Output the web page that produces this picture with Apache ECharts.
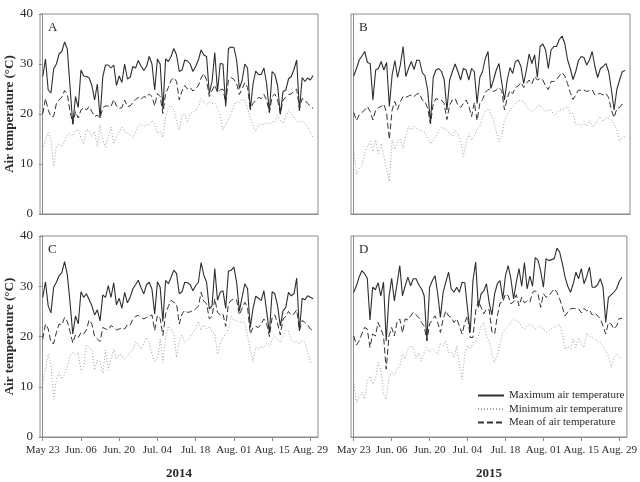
<!DOCTYPE html>
<html>
<head>
<meta charset="utf-8">
<script src="https://cdn.jsdelivr.net/npm/echarts@6/dist/echarts.min.js"></script>
<style>
  html, body { margin: 0; padding: 0; background: #fff; }
  #chart { width: 640px; height: 482px; }
</style>
</head>
<body>
<div id="chart"></div>
<script>
"use strict";
// ---- data: daily values, day 0 = May 23 ----
const tickDays = [0, 14, 28, 42, 56, 70, 84, 98];
const tickLabels = ["May 23", "Jun. 06", "Jun. 20", "Jul. 04", "Jul. 18", "Aug. 01", "Aug. 15", "Aug. 29"];
const seriesNames = ["Maximum air temperature", "Minimum air temperature", "Mean of air temperature"];

// panel A (2014)
const maxA = [27.5,31,24.8,24.2,29,30,32,32.5,34.4,33,25.5,17.9,23.5,21.3,28.8,27.6,27.5,27.2,25.7,22.8,
  26,19.2,27.5,29.8,29.8,29.2,29.8,25.7,27.6,26.3,30,27,27.3,29.5,29.2,30.7,29.6,28.7,29.5,31.5,
  30,24.8,31,30,21,31,30.5,31.5,33.1,31.8,28.5,28.8,30.8,30.6,30,28.5,29.5,30.8,32.8,31.8,
  31.5,24.1,26.5,32.3,24.5,30.1,30,21.5,33.1,33.4,33.3,30.8,25.1,26.7,30,29.2,20.8,26,28.6,27.9,
  27.9,29.2,26,20.3,28.5,27.9,25.7,19.9,24.5,24.8,27,27.5,28.9,30.8,20.6,27.3,26.5,27.2,26.8,27.7];
const minA = [12.8,14.8,16.3,14.8,9.5,13.5,14,13.5,14.5,15.7,16.1,15.5,16.8,16.9,15.3,14,16.9,16.7,15.5,16.5,
  13.5,17.9,14.8,13.4,15.5,17.4,14,15.5,16.3,17.4,16.5,16.1,15.8,15.3,16.5,17.7,18,17.5,17.9,17.7,
  18.7,17.9,16.1,16.7,15.3,19.3,21.3,21.7,20.8,18.7,16.8,19.7,20.1,18.3,20.1,20.3,20.8,21.6,23.1,22.5,
  21.7,22.5,22.1,22.2,21.2,19.8,16.8,18,19,20.1,21.6,22.5,22.2,22.9,22.7,21.1,19.3,17.7,16.5,17.7,
  18,17.9,18.3,17.9,18.5,18.5,19.7,18.7,18.1,19.3,20.7,20.1,19.2,18.7,18.3,18.7,18.1,17.5,16.3,15.3];
const meanA = [20,23.1,20.8,19.5,19.5,22.1,22.8,23.4,24.7,24,20.5,18,20.5,19.2,20.8,21.3,20.8,21.5,20.5,19.5,
  19.8,19.2,21.3,21.6,21.6,21.5,22.9,21.6,21.1,21.3,22.8,21.5,21.6,22.3,22.9,23.3,22.9,23.5,23.3,24,
  23.5,21.6,24.1,23.5,20.1,24.1,25.3,26.7,27.3,26.5,22.8,24.6,25.7,25,25.3,24.6,25,25.7,27.2,28.1,
  26.8,23.5,24.7,25.8,24.3,24.8,25,22.2,26.8,27.3,26.9,26.1,23.9,25,26.3,25.3,21.1,22.1,22.7,23.3,
  23.1,23.9,22.7,20.3,23.5,24,22.8,20.1,22.8,23.3,23.9,24,24.6,25,21.1,23.1,22.8,22.1,21.6,21.1];

// panel B (2015)
const maxB = [27.6,29.1,30.8,31.6,32.5,30.3,30.1,22.8,28.8,29.1,30.5,28.8,30.3,21.5,27.8,30.7,27.3,29.8,33.5,27.5,
  29.1,30.5,28.9,30.8,30.7,28.3,27.6,24.7,18.1,27.3,28.8,29.1,28.5,26.9,20.8,26.8,28.5,30,28.5,26.8,
  29.1,28.8,26.8,29.1,28.5,22.1,27.3,28.5,31.1,32.5,25.1,26.8,28.8,30.1,26.3,22.8,26.8,29.3,28.1,30.5,
  30.8,29.5,26.1,28.8,32,30.1,31.8,27.3,33.5,34,32.8,29.1,32.8,33.5,33.5,34.9,35.6,34.1,30.9,29.1,
  26.9,28.5,30.7,31.5,31.3,29.8,30.8,32.5,29.5,27.3,29.1,29.5,30.1,28.5,24.9,20.8,24.9,26.8,28.5,28.7];
const minB = [13.1,7.8,9.1,9.6,12.1,13.5,14.5,12.5,14.8,12.1,14.1,11.5,8.8,6.5,14.8,12.9,14.5,15.1,13.1,15.5,
  17.6,16.8,17.5,17.1,16.8,16.5,16.3,15.1,14,14.8,15.5,16.7,17.3,17.1,16.7,16.1,15.6,16.7,16,14.8,
  11.5,14.1,16.1,14.8,15.5,17.1,17.6,19.5,20.5,21.1,20.1,18.8,16.5,14.5,15.5,18.8,19.8,20.8,21.5,22.1,
  22.7,22.7,22.5,21.5,20.9,20.5,20.9,21.5,21.8,21.1,20.5,20.8,20.8,19.8,20.1,20.8,20.9,21.1,21.5,20.1,
  20.1,17.8,18,17.5,18.5,17.6,18.7,17.5,17.8,18.8,19.5,18.5,19.3,19.1,18.8,18,16.8,14.5,15.3,15.5];
const meanB = [20.3,18.7,19.8,20.3,20.8,21.5,20.5,18.8,20.8,21.3,21.5,22,20.1,14.9,20.8,22.5,20.9,22.5,23.5,23.3,
  23.6,23.8,23.5,24,24.1,22.8,22.5,21.1,18,22.1,23.1,22.8,22.8,22.1,18.9,21.8,22.8,23.1,21.8,21.3,
  22.1,22.8,21.6,19.5,22.3,18.7,22.1,22.9,24.3,24.9,24.8,24.5,24.8,25.3,24.7,20.8,23.1,24.7,24.1,25.3,
  25.6,26.3,25.3,26.1,26.8,26,27.5,26.8,27.1,26.8,25.6,24.9,26.5,26.5,26.9,27.6,28.3,27.6,26.1,24.3,
  22.9,23.8,24.8,24.7,24.8,24.5,24.7,24.8,23.8,24,24.1,23.8,24.1,23.3,20.8,19.3,21.1,21.3,22,21.8];

// panel C (2014)
const maxC = [27.8,30.9,26.1,24.7,29.8,30.8,32.1,32.7,34.9,32.3,26.8,20.5,24.1,22.5,28.9,27.8,28.5,27.3,26.1,24.3,
  25.3,23.1,28.3,27.8,30.1,27.8,30.7,26.3,27.6,25.6,28.8,26.7,27.8,29.5,30.3,31.2,29.7,28.5,30.3,30.8,
  29.4,24.5,30.9,29.8,23,31.2,30.5,31.8,33.2,32.5,28.5,28.9,30.8,30.7,30.3,29.1,30.1,30.8,34.7,32.2,
  30.8,25.5,26.1,33.5,27.2,28.8,29.1,25.6,33,33.2,33.8,30.8,25.1,27.8,30.5,29.5,21.8,25.6,28,27.6,
  27.2,29.1,25,20.7,28.9,28.5,26.1,22.1,25.1,25.8,28.8,28.1,28.5,31.6,21.1,27.6,27.3,28.1,27.8,27.5];
const minC = [10.7,13.5,16.5,14.5,7.5,11.5,12.8,11.5,12.5,14,16.3,16.8,16.5,16.8,13.2,14.2,18.3,17.8,17.5,13.3,
  15.3,15,12.6,17.3,13.3,15.5,17.5,15.5,16.5,16.2,15.5,16,17,17.3,19,18.3,17.5,18.5,19.8,18.8,
  16.5,15,15.5,19.5,14.8,19.8,22,21.5,20.5,15.8,19.3,20.3,18.8,19.2,20,20.8,21.5,23,21.2,22.3,
  21.5,22,21,20.5,16.5,18.5,19.8,20.5,21.5,24,23.2,23.2,22.8,23,22.8,20,17.5,15,18,17.5,
  18,17.8,18.5,18,19.3,20,19.5,18.8,20,21.2,21,19.3,18.8,19,18.5,19.2,18.8,17,15,14.8];
const meanC = [19.5,22.5,21.5,18.8,18.6,20.8,22.5,22.3,23.8,23,21,18.7,20.3,19.8,20.8,20.5,21.3,23.3,22.5,20,
  19.5,19,21.8,21.5,21.3,22.2,21.8,21.3,21.5,21.7,21.5,22.3,22.2,23.5,24,24.2,23.8,23.5,23.8,24,
  24.3,21.2,24.2,23.6,20.2,24.5,26,27.2,26.8,26.5,22.5,24.5,25.2,24.8,24.9,25.2,25.5,26,28.8,27,
  26.5,23.5,24,27.5,24.8,24.3,24.5,22,26.5,27.2,27.5,27.3,24.3,25.6,26.8,25.8,20.5,21.8,22,21.8,
  22.5,23.5,22.5,20,23.8,24.3,22.5,20.3,23.5,24,25,24.2,24.5,25.3,21.2,23.2,22.8,22.3,21.5,21.2];

// panel D (2015)
const maxD = [28.8,30.1,31.8,33.1,32.5,31.6,23.3,29.8,29.3,30.7,28.1,30.8,19.1,27.8,31.6,27.1,30.5,34.1,28.1,30.1,
  31.8,30.1,31.5,31.5,30.3,29.5,28.1,19.3,29.8,31.1,32.1,28.5,23.8,28.8,30.8,32.8,29.5,28.8,29.8,28.8,
  30.8,30.7,25.5,20.8,31.1,34.8,25.8,28.5,29.1,30.5,26.7,24.3,28.5,30.5,31.1,27.5,32.1,34.1,31.5,27.5,
  30.8,33.5,30,34.7,29.5,32,30,35.7,35.2,33,29.8,35.5,35.1,35.3,35.5,37.6,36.8,34.5,31.8,30,
  28.8,30.5,32.8,31.5,33.5,30.5,32,33.8,29.8,29.8,30.3,31.5,29.8,22.8,27.8,28.3,28.8,29.5,31,31.8];
const minD = [11.1,6.8,8.1,8.9,7.5,11.1,12.1,10.5,11.5,14.8,13.5,8.5,7.5,11.8,12.8,12.3,13.5,14.1,16.5,15.5,
  17.5,18.1,17.8,15.6,16.7,15.1,16.8,17.8,16.9,17.6,17.1,16.5,18.7,18.1,19.1,16.8,16.9,15.8,18.1,14.5,
  11.5,16.5,18.1,17.5,18.8,19.1,20.1,22.1,22.8,20.1,19.1,16.5,14.8,16.3,18.5,20.8,21.5,22.1,22.8,23.5,
  23.1,22.8,22,21.5,22.1,22.5,22.1,21.5,21.8,22.1,21.5,20.8,21.1,21.5,21.8,22.1,22.3,20.5,17.5,18.1,
  17.6,19.5,17.8,19.8,18.5,17.8,20.7,20.1,19.8,19.5,19.1,18.8,18.1,17.1,16.1,13.8,15.8,16.5,15.8,15.6];
const meanD = [20.1,18.3,19.1,20.5,21.8,21.5,17.8,20.5,20.1,22.8,21.5,20.1,13.5,20.1,21.8,20.1,22.9,23.5,20.7,23.5,
  23.3,24.1,24.8,24.3,23.8,22.8,22.1,19.1,22.5,23.3,24.1,22.8,20.8,23.5,25.1,24.1,23.8,22.8,23.5,22.1,
  20.5,22.8,24.1,19.8,19.8,25.1,27.1,25.8,24.5,25.5,25.3,20.9,20.5,24.1,26.7,26.8,28.5,28.1,26.5,26.9,
  28.3,26.1,27.8,26.7,27.1,26.8,28.8,29.1,28.5,25.8,28.5,27.8,28.1,28.8,29.5,28.8,27.5,25.8,24.1,24.9,
  25.5,25.6,25.5,25.5,24.7,25.6,25.1,25.3,24.3,24.7,24.1,23.5,22.1,20.5,22.8,22.5,21.5,22.1,23.6,23.6];

// ---- layout ----
const FONT = "Liberation Serif";
const INK = "#2b2b2b";
const FRAME = "#8c8c8c";
const panels = [
  { letter: "A", max: maxA, min: minA, mean: meanA, left: 40,  top: 14,  width: 278, height: 200, yLab: true,  xLab: false },
  { letter: "B", max: maxB, min: minB, mean: meanB, left: 351, top: 14,  width: 279, height: 200, yLab: false, xLab: false },
  { letter: "C", max: maxC, min: minC, mean: meanC, left: 40,  top: 236, width: 278, height: 201, yLab: true,  xLab: true, year: "2014" },
  { letter: "D", max: maxD, min: minD, mean: meanD, left: 351, top: 236, width: 279, height: 201, yLab: false, xLab: true, year: "2015" }
];
const pts = (arr) => arr.map((v, i) => [i, v]);
const lineStyles = [
  { color: "#2e2e2e", width: 1.1, type: "solid" },
  { color: "#a0a0a0", width: 1, type: [1, 2] },
  { color: "#333", width: 1, type: [6, 3] }
];

const grid = [], xAxis = [], yAxis = [], series = [], title = [];
panels.forEach((p, k) => {
  grid.push({ left: p.left, top: p.top, width: p.width, height: p.height,
    show: true, borderColor: FRAME, borderWidth: 1, backgroundColor: "#fff" });
  xAxis.push({ type: "value", gridIndex: k, min: -1, max: 100.8,
    name: p.year || "", nameLocation: "middle", nameGap: 30,
    nameTextStyle: { fontFamily: FONT, fontWeight: "bold", fontSize: 13, color: INK },
    axisLine: { show: true, onZero: false, lineStyle: { color: FRAME } },
    axisTick: { show: p.xLab, length: 4, lineStyle: { color: FRAME }, customValues: tickDays },
    axisLabel: { show: p.xLab, customValues: tickDays, margin: 8, hideOverlap: false,
      showMinLabel: true, showMaxLabel: true,
      fontFamily: FONT, fontSize: 11, color: INK,
      formatter: (v) => tickLabels[tickDays.indexOf(Math.round(v))] || "" },
    splitLine: { show: false } });
  yAxis.push({ type: "value", gridIndex: k, min: 0, max: 40, interval: 10,
    name: p.yLab ? "Air temperature (\u00B0C)" : "", nameLocation: "middle", nameGap: 24,
    nameTextStyle: { fontFamily: FONT, fontWeight: "bold", fontSize: 13, color: INK },
    axisLine: { show: true, lineStyle: { color: FRAME } },
    axisTick: { show: p.yLab, length: 4, lineStyle: { color: FRAME } },
    axisLabel: { show: p.yLab, margin: 7, fontFamily: FONT, fontSize: 13, color: INK },
    splitLine: { show: false } });
  [p.max, p.min, p.mean].forEach((arr, j) => {
    series.push({ name: seriesNames[j], type: "line", xAxisIndex: k, yAxisIndex: k,
      data: pts(arr), symbol: "none", showSymbol: false, animation: false,
      lineStyle: lineStyles[j], itemStyle: { color: lineStyles[j].color }, z: 3 - j });
  });
  title.push({ text: p.letter, left: p.left + 3, top: p.top + 2,
    textStyle: { fontFamily: FONT, fontSize: 13, fontWeight: "normal", color: INK } });
});

const chart = echarts.init(document.getElementById("chart"), null, { renderer: "canvas" });
chart.setOption({
  backgroundColor: "#fff",
  animation: false,
  title, grid, xAxis, yAxis, series,
  legend: { orient: "vertical", left: 472, top: 385, itemWidth: 26, itemHeight: 10, itemGap: 2.5,
    data: seriesNames, selectedMode: false,
    itemStyle: { opacity: 0 },
    textStyle: { fontFamily: FONT, fontSize: 11, color: INK } }
});
</script>
</body>
</html>
